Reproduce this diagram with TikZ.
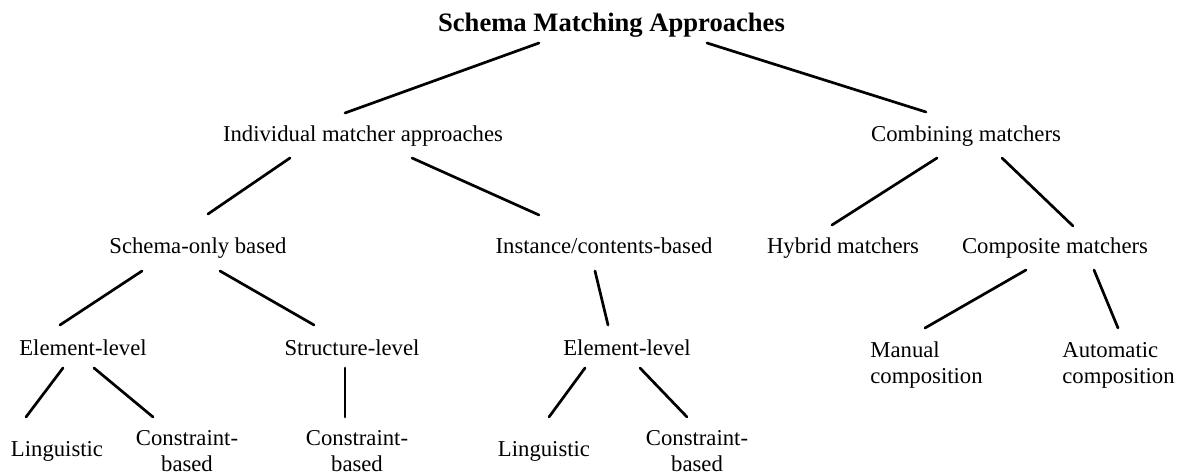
\documentclass[tikz,border=0pt]{standalone}
\usepackage{fontspec}
\setmainfont{Liberation Serif}
\usetikzlibrary{calc}

\newcommand{\twolines}[3]{\begin{tabular}[t]{@{}#1@{}}#2\\#3\end{tabular}}

\begin{document}
\begin{tikzpicture}[
    x=0.5pt, y=-0.5pt,
    label/.style={inner sep=0pt, anchor=base, font=\fontsize{11.35}{13}\selectfont},
    heading/.style={inner sep=0pt, anchor=base, font=\fontsize{13.3}{16}\selectfont\bfseries},
    branch/.style={line width=1.35pt, line cap=round}
  ]
  \path[fill=white] (0,0) rectangle (1189,475);
  \useasboundingbox (0,0) rectangle (1189,475);

  % levels of the classification
  \node[heading] (title) at (611.5,32) {Schema Matching Approaches};

  \node[label] (ind)  at (363,142) {Individual matcher approaches};
  \node[label] (comb) at (966,142) {Combining matchers};

  \node[label] (schema) at (198,254)  {Schema-only based};
  \node[label] (inst)   at (604,254)  {Instance/contents-based};
  \node[label] (hyb)    at (843,254)  {Hybrid matchers};
  \node[label] (comp)   at (1055,254) {Composite matchers};

  \node[label] (el1) at (83,356)  {Element-level};
  \node[label] (str) at (352,356) {Structure-level};
  \node[label] (el2) at (627,356) {Element-level};
  \node[label, anchor=base west] (man)  at (870,358)  {\twolines{l}{Manual}{composition}};
  \node[label, anchor=base west] (auto) at (1062,358) {\twolines{l}{Automatic}{composition}};

  \node[label] (ling1) at (57,457)  {Linguistic};
  \node[label] (con1)  at (187,446) {\twolines{c}{Constraint-}{based}};
  \node[label] (con2)  at (357,446) {\twolines{c}{Constraint-}{based}};
  \node[label] (ling2) at (544,457) {Linguistic};
  \node[label] (con3)  at (697,446) {\twolines{c}{Constraint-}{based}};

  % tree branches
  \draw[branch] ($(title.base)+(-72.5,11)$) -- ($(ind.base)+(-18,-29)$);
  \draw[branch] ($(title.base)+(95.5,11)$)  -- ($(comb.base)+(-40,-30)$);

  \draw[branch] ($(ind.base)+(-73,16)$) -- ($(schema.base)+(10,-40)$);
  \draw[branch] ($(ind.base)+(49,16)$)  -- ($(inst.base)+(-65,-39)$);
  \draw[branch] ($(comb.base)+(-29,16)$) -- ($(hyb.base)+(-11,-29)$);
  \draw[branch] ($(comb.base)+(36,16)$)  -- ($(comp.base)+(18,-28)$);

  \draw[branch] ($(schema.base)+(-56,17)$) -- ($(el1.base)+(-23,-31)$);
  \draw[branch] ($(schema.base)+(22,17)$)  -- ($(str.base)+(-38,-31)$);
  \draw[branch] ($(inst.base)+(-9,17)$)    -- ($(el2.base)+(-19,-31)$);
  \draw[branch] ($(comp.base)+(-29,16)$)   -- ($(man.base west)+(55,-30)$);
  \draw[branch] ($(comp.base)+(39,16)$)    -- ($(auto.base west)+(56,-30)$);

  \draw[branch] ($(el1.base)+(-20,12)$) -- ($(ling1.base)+(-31,-40)$);
  \draw[branch] ($(el1.base)+(11,12)$)  -- ($(con1.base)+(-34,-29)$);
  \draw[branch] ($(str.base)+(-7,12)$)  -- ($(con2.base)+(-12,-29)$);
  \draw[branch] ($(el2.base)+(-42,12)$) -- ($(ling2.base)+(5,-40)$);
  \draw[branch] ($(el2.base)+(13,12)$)  -- ($(con3.base)+(-10,-29)$);
\end{tikzpicture}
\end{document}
